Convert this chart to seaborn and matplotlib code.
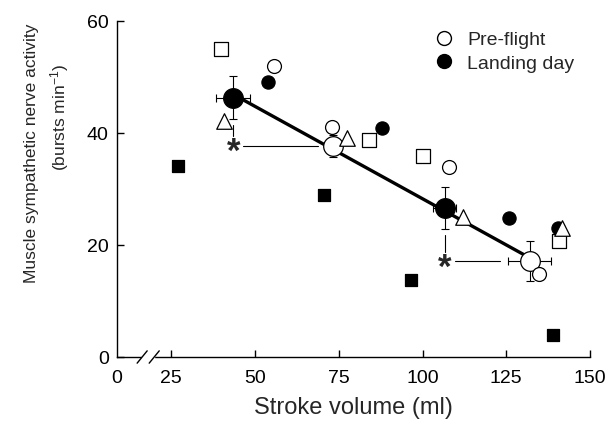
import numpy as np
import pandas as pd
import seaborn as sns
import matplotlib.pyplot as plt
from matplotlib.lines import Line2D

# individual subjects
pre_circle_sv = [55.8, 73.1, 107.8, 134.7]
pre_circle_msna = [52.0, 41.1, 33.9, 14.8]
pre_square_sv = [39.9, 83.9, 100.0, 140.7]
pre_square_msna = [55.0, 38.8, 35.9, 20.7]
pre_triangle_sv = [40.8, 77.3, 112.0, 141.6]
pre_triangle_msna = [42.1, 39.1, 25.0, 23.0]
landing_circle_sv = [54.0, 87.8, 125.7, 140.4]
landing_circle_msna = [49.1, 40.9, 24.8, 23.0]
landing_square_sv = [27.1, 70.7, 96.7, 138.9]
landing_square_msna = [34.1, 28.9, 13.8, 3.9]

# group means +- SE
pre_mean_sv = [73.4, 132.0]
pre_mean_msna = [37.7, 17.1]
pre_sv_err = [2.0, 6.4]
pre_msna_err = [2.0, 3.6]
landing_mean_sv = [43.5, 106.6]
landing_mean_msna = [46.3, 26.6]
landing_sv_err = [5.1, 3.4]
landing_msna_err = [3.8, 3.8]

x_ticks = [8.8, 25, 50, 75, 100, 125, 150]
x_ticklabels = ['0', '25', '50', '75', '100', '125', '150']
y_ticks = [0, 20, 40, 60]

sns.set_style('ticks')
plt.rcParams['font.family'] = ['Liberation Sans', 'DejaVu Sans']
plt.rcParams['mathtext.default'] = 'regular'

fig = plt.figure(figsize=(6.14, 4.27), dpi=100)
ax = fig.add_axes([0.1906, 0.1616, 0.7704, 0.7869])

#individual points
groups = [
    (landing_circle_sv, landing_circle_msna, 'o', 'black', 90),
    (landing_square_sv, landing_square_msna, 's', 'black', 80),
    (pre_circle_sv, pre_circle_msna, 'o', 'white', 100),
    (pre_square_sv, pre_square_msna, 's', 'white', 88),
    (pre_triangle_sv, pre_triangle_msna, '^', 'white', 125),
]
for sv, msna, mk, face, size in groups:
    df = pd.DataFrame({'sv': sv, 'msna': msna})
    sns.scatterplot(data=df, x='sv', y='msna', marker=mk, s=size, color=face,
                    edgecolor='black', linewidth=0.9, zorder=5, ax=ax)

#regression line through the group means
all_sv = landing_mean_sv + pre_mean_sv
all_msna = landing_mean_msna + pre_mean_msna
sns.regplot(x=all_sv, y=all_msna, scatter=False, ci=None, truncate=True,
            color='black', line_kws=dict(lw=2.4, zorder=3), ax=ax)

#means with error bars
ax.errorbar(landing_mean_sv, landing_mean_msna, xerr=landing_sv_err, yerr=landing_msna_err,
            fmt='none', ecolor='black', elinewidth=0.8, capsize=3, capthick=0.8, zorder=2)
ax.errorbar(pre_mean_sv, pre_mean_msna, xerr=pre_sv_err, yerr=pre_msna_err,
            fmt='none', ecolor='black', elinewidth=0.8, capsize=3, capthick=0.8, zorder=2)
sns.scatterplot(x=landing_mean_sv, y=landing_mean_msna, marker='o', s=200, color='black',
                edgecolor='black', linewidth=0.9, zorder=4, ax=ax)
sns.scatterplot(x=pre_mean_sv, y=pre_mean_msna, marker='o', s=200, color='white',
                edgecolor='black', linewidth=0.9, zorder=4, ax=ax)

#significance brackets
for i in range(2):
    lx = landing_mean_sv[i]
    py = pre_mean_msna[i]
    ax.plot([lx, lx], [landing_mean_msna[i] - landing_msna_err[i] - 1.0, py + 1.7],
            color='black', lw=0.8, zorder=2)
    ax.plot([lx + 3.0, pre_mean_sv[i] - pre_sv_err[i] - 2.5], [py, py],
            color='black', lw=0.8, zorder=2)
    ax.annotate('*', (lx, py), xytext=(0, -11), textcoords='offset points',
                ha='center', va='baseline', fontsize=25, fontweight='bold', zorder=6)

ax.set_xlim(8.8, 150)
ax.set_ylim(0, 60)
ax.set_xticks(x_ticks)
ax.set_xticklabels(x_ticklabels)
ax.set_yticks(y_ticks)
ax.tick_params(direction='in', length=5, width=1, labelsize=14, colors='black')
ax.tick_params(axis='x', pad=9)
ax.tick_params(axis='y', pad=6)
ax.xaxis.get_major_ticks()[0].tick1line.set_visible(False)
sns.despine(ax=ax)
for s in ['left', 'bottom']:
    ax.spines[s].set_linewidth(1.0)
    ax.spines[s].set_color('black')

#axis break marks
ax.fill_between([16.3, 19.9], -0.4, 0.4, color='white', zorder=7, clip_on=False)
for bx in [16.3, 19.9]:
    ax.plot([bx - 1.5, bx + 1.5], [-1.1, 1.1], color='black', lw=1.0, zorder=8, clip_on=False)

ax.set_xlabel('Stroke volume (ml)', fontsize=17, labelpad=7)
ax.set_ylabel('')
fig.text(32 / 614, 1 - 153 / 427, 'Muscle sympathetic nerve activity', rotation=90,
         ha='center', va='center', fontsize=12.5)
fig.text(60 / 614, 1 - 117 / 427, '(bursts min$^{-1}$)', rotation=90,
         ha='center', va='center', fontsize=12.5)

handles = [
    Line2D([], [], marker='o', ls='none', markersize=10, markerfacecolor='white', markeredgecolor='black'),
    Line2D([], [], marker='o', ls='none', markersize=10, markerfacecolor='black', markeredgecolor='black'),
]
ax.legend(handles, ['Pre-flight', 'Landing day'], loc='upper left', bbox_to_anchor=(0.65, 1.0),
          frameon=False, fontsize=14, handlelength=1.0, handletextpad=0.7, labelspacing=0.3,
          borderpad=0)

fig.savefig('out.png', dpi=100)
